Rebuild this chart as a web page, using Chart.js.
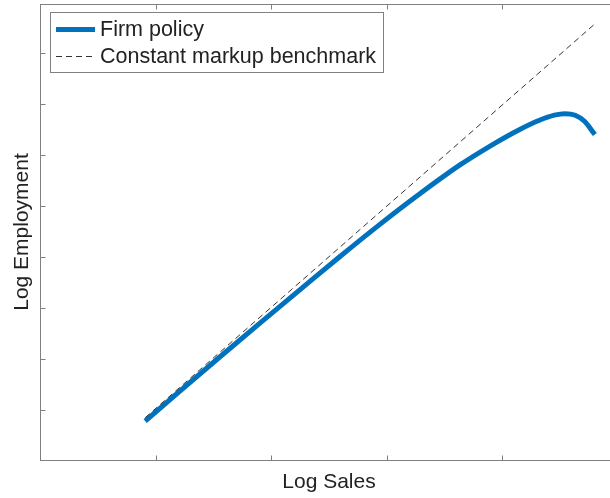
<!DOCTYPE html>
<html>
<head>
<meta charset="utf-8">
<script src="https://cdn.jsdelivr.net/npm/chart.js@4.4.1/dist/chart.umd.min.js"></script>
<style>
  html, body { margin: 0; padding: 0; background: #fff; overflow: hidden; }
  #wrap { width: 610px; height: 498px; overflow: hidden; position: relative; }
  #policyChart { display: block; }
</style>
</head>
<body>
<div id="wrap"><canvas id="policyChart" width="630" height="498"></canvas></div>
<script>
// Firm policy curve (log sales vs log employment)
const logSales = [-0.09, 0.21, 0.55, 0.90, 1.25, 1.59, 1.94, 2.28, 2.63, 2.89, 3.15, 3.32, 3.45, 3.54, 3.63, 3.71, 3.80];
const logEmployment = [-0.22, 0.37, 1.03, 1.70, 2.36, 3.00, 3.64, 4.23, 4.80, 5.17, 5.50, 5.68, 5.78, 5.81, 5.78, 5.66, 5.40];

// Constant markup benchmark (straight line, two end points)
const benchSales = [-0.09, 3.80];
const benchEmployment = [-0.15, 7.57];

// Tick positions (the original shows no tick labels)
const xTickValues = [0, 1, 2, 3];
const yTickValues = [0, 1, 2, 3, 4, 5, 6, 7];

const seriesLabels = ['Firm policy', 'Constant markup benchmark'];

const axisColor = '#808080';
const textColor = '#222222';
const fontFamily = '"Liberation Sans", Arial, Helvetica, sans-serif';

function toPoints(xs, ys) {
  return xs.map((x, i) => ({ x: x, y: ys[i] }));
}

// MATLAB-style box (its right side falls outside the figure),
// inward tick marks and the in-plot legend
const matlabFrame = {
  id: 'matlabFrame',
  afterDatasetsDraw(chart) {
    const { ctx, chartArea: a, scales } = chart;
    const L = Math.round(a.left) + 0.5;
    const R = Math.round(a.right) + 0.5;
    const T = Math.round(a.top) + 0.5;
    const B = Math.round(a.bottom) + 0.5;
    ctx.save();
    ctx.strokeStyle = axisColor;
    ctx.lineWidth = 1;
    ctx.strokeRect(L, T, R - L, B - T);

    const tickLen = 5;
    ctx.beginPath();
    xTickValues.forEach(v => {
      const px = Math.round(scales.x.getPixelForValue(v)) + 0.5;
      ctx.moveTo(px, B); ctx.lineTo(px, B - tickLen);
      ctx.moveTo(px, T); ctx.lineTo(px, T + tickLen);
    });
    yTickValues.forEach(v => {
      const py = Math.round(scales.y.getPixelForValue(v)) + 0.5;
      ctx.moveTo(L, py); ctx.lineTo(L + tickLen, py);
      ctx.moveTo(R, py); ctx.lineTo(R - tickLen, py);
    });
    ctx.stroke();

    // legend box
    const box = { x: 50.5, y: 12.5, w: 333, h: 60 };
    ctx.fillStyle = '#fff';
    ctx.fillRect(box.x, box.y, box.w, box.h);
    ctx.strokeStyle = axisColor;
    ctx.strokeRect(box.x, box.y, box.w, box.h);

    ctx.font = '21.5px ' + fontFamily;
    ctx.textBaseline = 'middle';
    ctx.textAlign = 'left';
    const rows = [29.5, 56.5];
    chart.data.datasets.forEach((ds, i) => {
      const y = rows[i];
      ctx.beginPath();
      ctx.strokeStyle = ds.borderColor;
      ctx.lineWidth = ds.borderWidth;
      ctx.setLineDash(ds.borderDash || []);
      ctx.moveTo(56, y);
      ctx.lineTo(95, y);
      ctx.stroke();
      ctx.setLineDash([]);
      ctx.fillStyle = textColor;
      ctx.fillText(ds.label, 100, y + 1);
    });
    ctx.restore();
  }
};

const ctx = document.getElementById('policyChart').getContext('2d');

new Chart(ctx, {
  type: 'line',
  data: {
    datasets: [
      {
        label: seriesLabels[0],
        data: toPoints(logSales, logEmployment),
        borderColor: '#0072BD',
        borderWidth: 5,
        pointRadius: 0,
        cubicInterpolationMode: 'monotone',
        fill: false,
        order: 1
      },
      {
        label: seriesLabels[1],
        data: toPoints(benchSales, benchEmployment),
        borderColor: '#333333',
        borderWidth: 1,
        borderDash: [6, 4],
        pointRadius: 0,
        fill: false,
        order: 0
      }
    ]
  },
  options: {
    responsive: false,
    animation: false,
    events: [],
    layout: { padding: { top: 4, right: 12, left: 0, bottom: 0 } },
    plugins: {
      legend: { display: false },
      tooltip: { enabled: false }
    },
    scales: {
      x: {
        type: 'linear',
        min: -1,
        max: 4,
        grid: { display: false, drawTicks: false },
        border: { display: false },
        ticks: { display: false, stepSize: 1 },
        title: {
          display: true,
          text: 'Log Sales',
          color: textColor,
          font: { family: fontFamily, size: 21 },
          padding: { top: 9.4, bottom: 3.4 }
        }
      },
      y: {
        type: 'linear',
        min: -0.98,
        max: 7.96,
        grid: { display: false, drawTicks: false },
        border: { display: false },
        ticks: { display: false, stepSize: 1 },
        title: {
          display: true,
          text: 'Log Employment',
          color: textColor,
          font: { family: fontFamily, size: 21 },
          padding: { top: 9.4, bottom: 5.4 }
        }
      }
    }
  },
  plugins: [matlabFrame]
});
</script>
</body>
</html>
